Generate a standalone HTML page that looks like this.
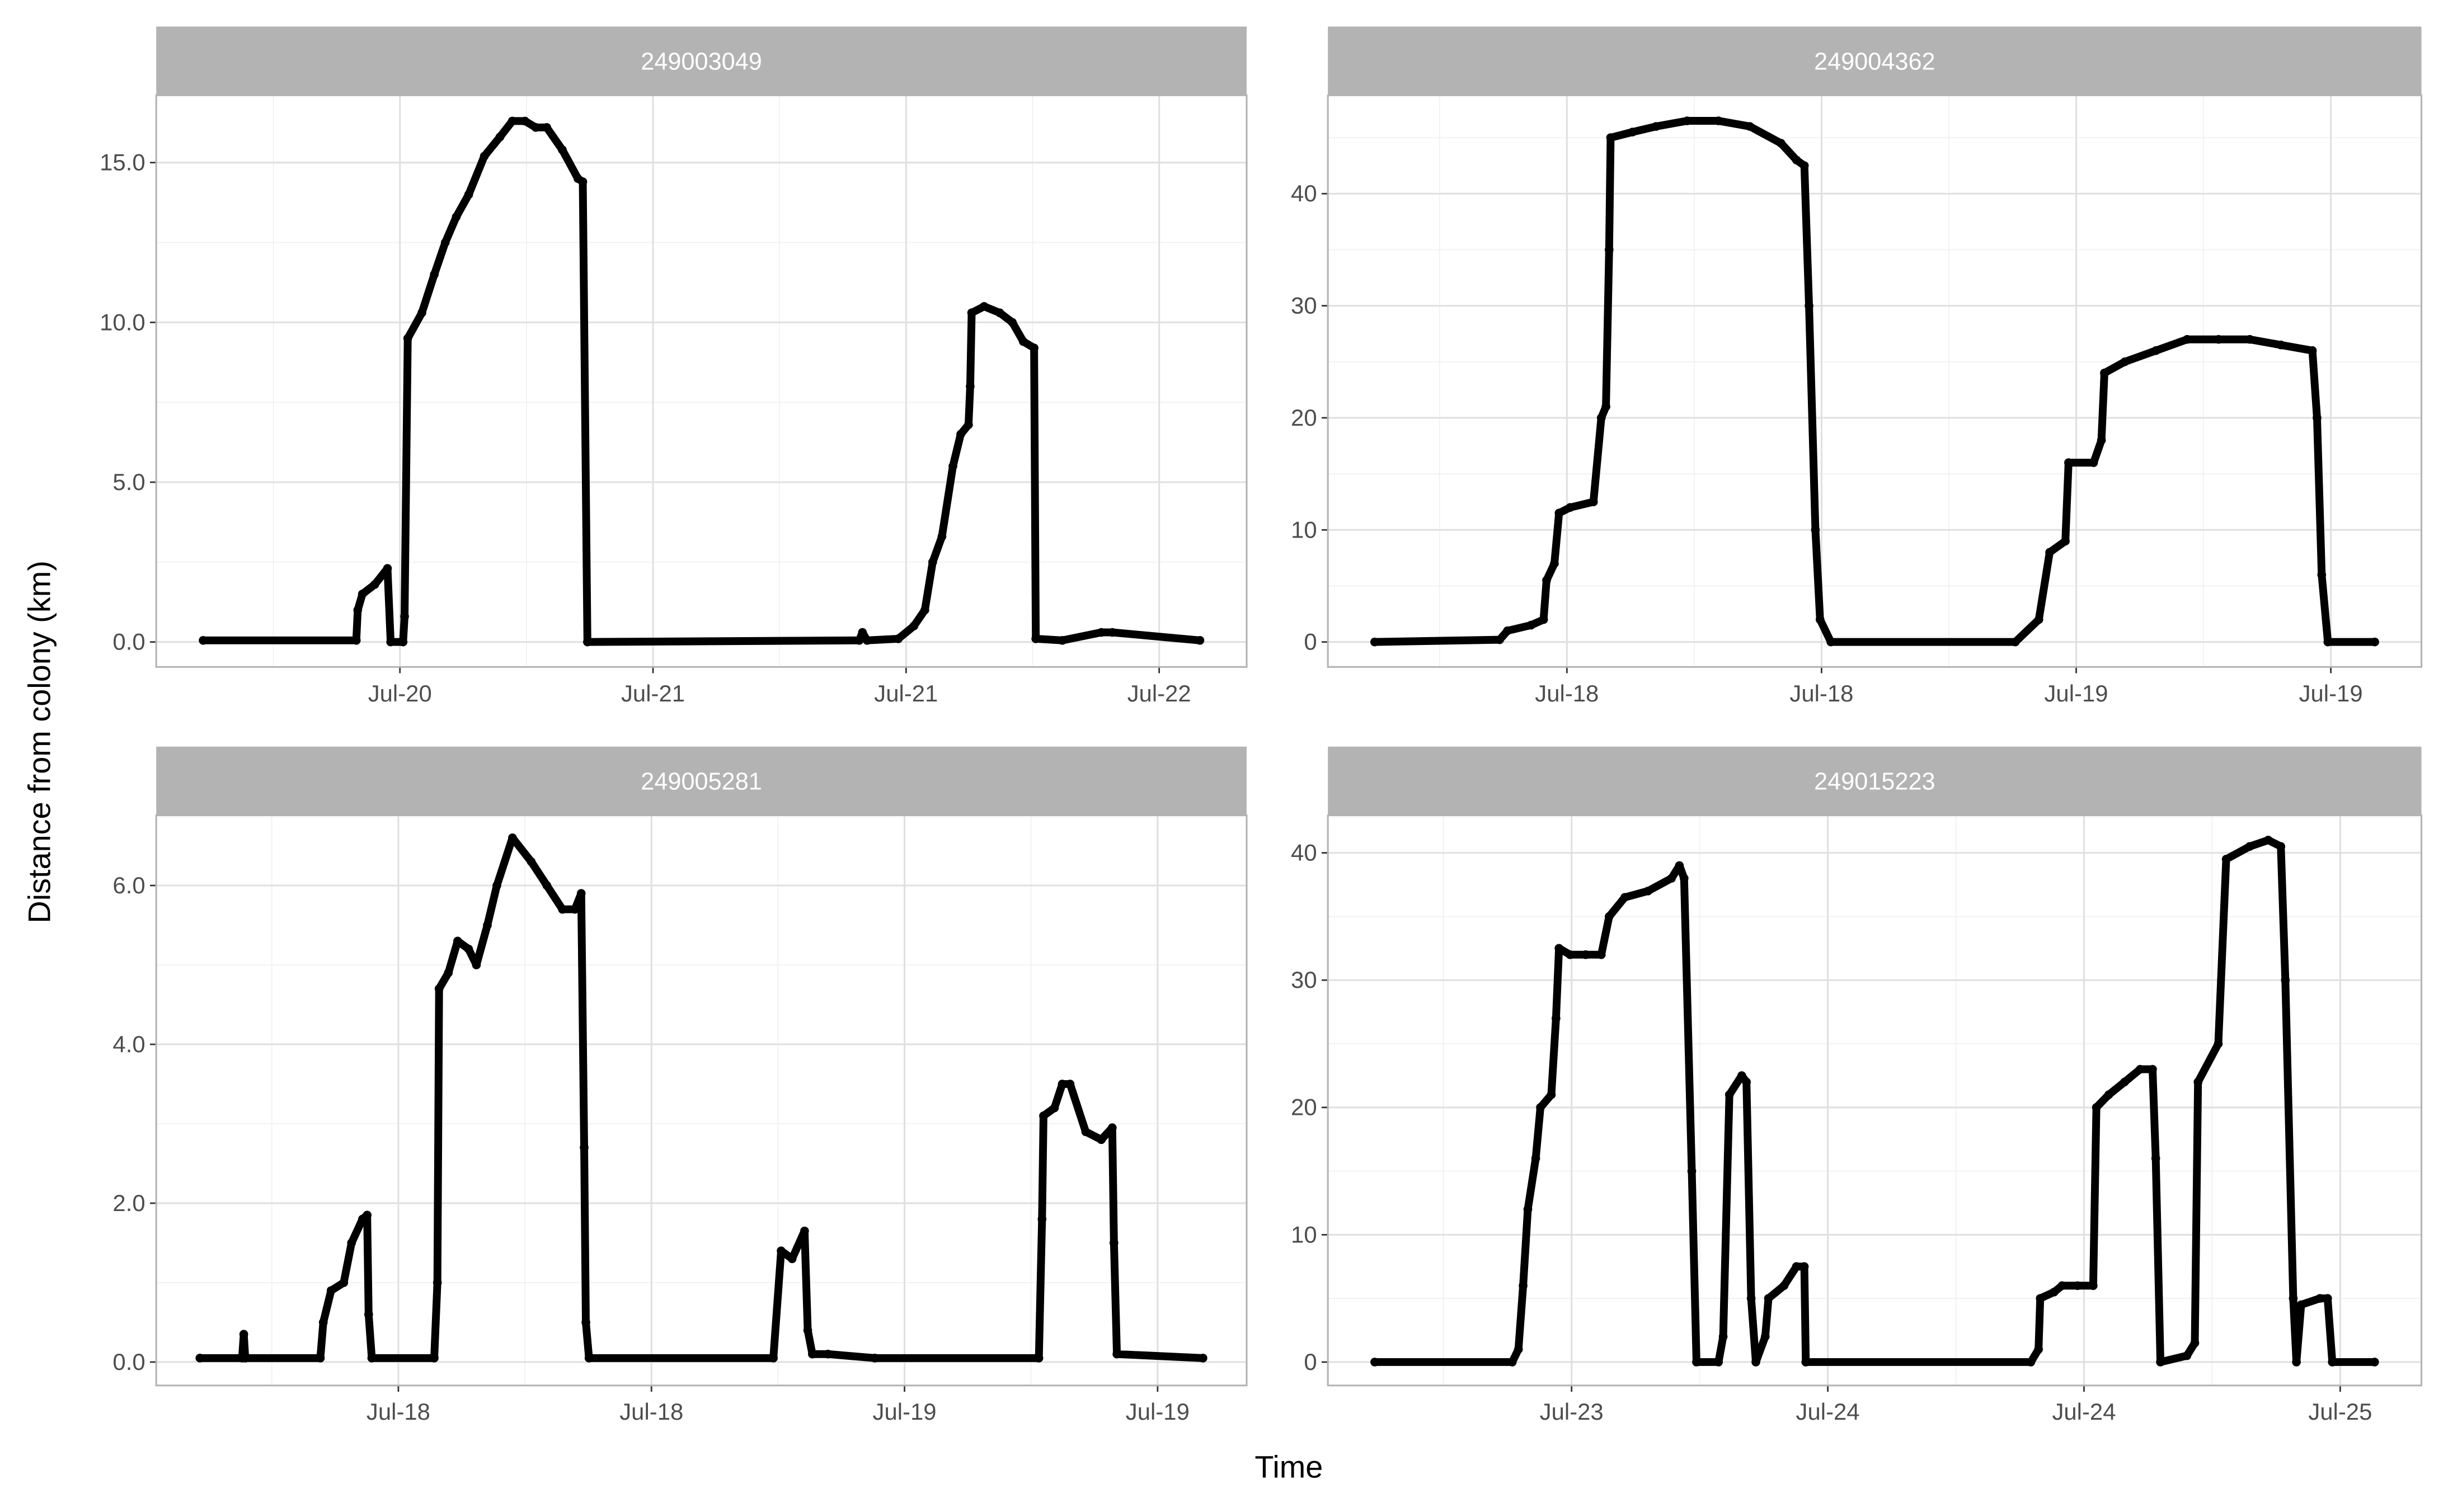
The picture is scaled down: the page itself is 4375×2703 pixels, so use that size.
<!DOCTYPE html>
<html><head><meta charset="utf-8"><style>
html,body{margin:0;padding:0;background:#fff;}
svg{display:block;font-family:"Liberation Sans",sans-serif;}
</style></head><body>
<svg id="chart" width="4375" height="2703" viewBox="0 0 1567 968" preserveAspectRatio="none" xmlns="http://www.w3.org/2000/svg">
<rect x="0" y="0" width="1567" height="968" fill="#fff"/>
<text x="0" y="0" transform="translate(32,475) rotate(-90)" text-anchor="middle" font-size="20" fill="#000">Distance from colony (km)</text>
<text x="825" y="946" text-anchor="middle" font-size="20" fill="#000">Time</text>
</svg>
<script>
// hours since first major tick (major tick every 12h)
const p1Hours=[-9.33,-2.07,-2.0,-1.78,-1.19,-0.59,-0.44,0.15,0.22,0.37,1.04,1.63,2.15,2.67,3.26,4.0,4.74,5.33,5.93,6.44,6.96,7.70,8.44,8.67,8.89,21.78,21.93,22.15,23.63,24.37,24.89,25.26,25.70,26.22,26.59,26.96,27.04,27.11,27.7,28.44,29.04,29.56,30.07,30.15,31.41,33.26,33.78,37.93];
const p1Values=[0.05,0.05,1.0,1.5,1.8,2.3,0,0,0.8,9.5,10.3,11.5,12.5,13.3,14.0,15.2,15.8,16.3,16.3,16.1,16.1,15.4,14.5,14.4,0,0.05,0.3,0.05,0.1,0.5,1.0,2.5,3.3,5.5,6.5,6.8,8,10.3,10.5,10.3,10.0,9.4,9.2,0.1,0.05,0.3,0.3,0.05];
const p2Hours=[-9.06,-3.17,-2.80,-1.69,-1.10,-0.96,-0.59,-0.37,0.15,1.25,1.62,1.84,1.99,2.06,3.09,4.20,5.67,7.14,8.62,10.09,10.82,11.19,11.41,11.71,11.93,12.44,21.13,22.24,22.75,23.49,23.64,24.82,25.19,25.33,26.29,27.76,29.23,30.71,32.18,33.65,35.13,35.35,35.57,35.86,38.07];
const p2Values=[0,0.2,1,1.5,2,5.5,7,11.5,12,12.5,20,21,35,45,45.5,46,46.5,46.5,46,44.5,43,42.5,30,10,2,0,0,2,8,9,16,16,18,24,25,26,27,27,27,26.5,26,20,6,0,0];
const p3Hours=[-9.41,-7.41,-7.33,-7.26,-3.70,-3.56,-3.19,-2.59,-2.22,-1.70,-1.48,-1.41,-1.26,1.70,1.85,1.93,2.37,2.81,3.33,3.70,4.22,4.67,5.41,6.30,7.04,7.78,8.37,8.67,8.81,8.89,9.04,17.78,18.15,18.67,19.26,19.41,19.63,20.37,22.59,30.37,30.52,30.59,31.11,31.48,31.85,32.59,33.33,33.85,33.93,34.07,38.15];
const p3Values=[0.05,0.05,0.35,0.05,0.05,0.5,0.9,1.0,1.5,1.8,1.85,0.6,0.05,0.05,1.0,4.7,4.9,5.3,5.2,5.0,5.5,6.0,6.6,6.3,6.0,5.7,5.7,5.9,2.7,0.5,0.05,0.05,1.4,1.3,1.65,0.4,0.1,0.1,0.05,0.05,1.8,3.1,3.2,3.5,3.5,2.9,2.8,2.95,1.5,0.1,0.05];
const p4Hours=[-9.22,-2.78,-2.49,-2.27,-2.05,-1.68,-1.46,-0.95,-0.73,-0.59,-0.07,0.66,1.39,1.76,2.49,3.58,4.68,5.05,5.27,5.63,5.85,6.88,7.10,7.39,7.97,8.19,8.41,8.63,9.07,9.22,9.95,10.53,10.90,10.97,21.51,21.87,21.95,22.60,22.97,23.70,24.43,24.58,25.16,25.90,26.63,27.21,27.36,27.58,28.82,29.19,29.34,30.29,30.66,31.76,32.63,33.22,33.43,33.80,33.95,34.17,35.05,35.41,35.63,37.61];
const p4Values=[0,0,1,6,12,16,20,21,27,32.5,32,32,32,35,36.5,37,38,39,38,15,0,0,2,21,22.5,22,5,0,2,5,6,7.5,7.5,0,0,1,5,5.5,6,6,6,20,21,22,23,23,16,0,0.5,1.5,22,25,39.5,40.5,41,40.5,30,5,0,4.5,5,5,0,0];
const stripLabels=["249003049","249004362","249005281","249015223"];
const p1XLabels=["Jul-20","Jul-21","Jul-21","Jul-22"];
const p2XLabels=["Jul-18","Jul-18","Jul-19","Jul-19"];
const p3XLabels=["Jul-18","Jul-18","Jul-19","Jul-19"];
const p4XLabels=["Jul-23","Jul-24","Jul-24","Jul-25"];
const p1YTicks=[0,5,10,15], p2YTicks=[0,10,20,30,40], p3YTicks=[0,2,4,6], p4YTicks=[0,10,20,30,40];
const p1YLabels=["0.0","5.0","10.0","15.0"], p2YLabels=["0","10","20","30","40"], p3YLabels=["0.0","2.0","4.0","6.0"], p4YLabels=["0","10","20","30","40"];

const NS="http://www.w3.org/2000/svg";
const svg=document.getElementById('chart');
function mk(tag,attrs,parent){const e=document.createElementNS(NS,tag);for(const k in attrs)e.setAttribute(k,attrs[k]);(parent||svg).appendChild(e);return e;}

const panels=[
 {x0:100,x1:798,sTop:17,y0:61,y1:427,tick0:256,tickStep:162,zeroY:411,pxPerUnit:102.3/5,hours:p1Hours,vals:p1Values,xl:p1XLabels,yt:p1YTicks,yl:p1YLabels,minor:2.5},
 {x0:850,x1:1550,sTop:17,y0:61,y1:427,tick0:1003,tickStep:163,zeroY:411,pxPerUnit:7.175,hours:p2Hours,vals:p2Values,xl:p2XLabels,yt:p2YTicks,yl:p2YLabels,minor:5},
 {x0:100,x1:798,sTop:478,y0:522,y1:887,tick0:255,tickStep:162,zeroY:872,pxPerUnit:50.85,hours:p3Hours,vals:p3Values,xl:p3XLabels,yt:p3YTicks,yl:p3YLabels,minor:1},
 {x0:850,x1:1550,sTop:478,y0:522,y1:887,tick0:1006,tickStep:164,zeroY:872,pxPerUnit:8.15,hours:p4Hours,vals:p4Values,xl:p4XLabels,yt:p4YTicks,yl:p4YLabels,minor:5}
];

panels.forEach((p,i)=>{
  const g=mk('g',{});
  
  
  const xS=h=>p.tick0+h*p.tickStep/12;
  const yS=v=>p.zeroY-v*p.pxPerUnit;
  const st=mk('rect',{x:p.x0,y:p.sTop,width:p.x1-p.x0,height:p.y0-p.sTop,fill:'#b3b3b3'},g);
  
  
  const stt=mk('text',{x:(p.x0+p.x1)/2,y:(p.sTop+p.y0)/2+5.5,'text-anchor':'middle','font-size':15.5,fill:'#fff'},g);
  stt.textContent=stripLabels[i];
  
  
  const maxV=(p.zeroY-p.y0)/p.pxPerUnit, minV=(p.zeroY-p.y1)/p.pxPerUnit;
  for(let v=Math.ceil(minV/p.minor)*p.minor; v<=maxV; v+=p.minor){
    mk('line',{x1:p.x0,x2:p.x1,y1:yS(v),y2:yS(v),stroke:'#f0f0f0','stroke-width':0.6},g);
  }
  for(let k=-1;k<=4;k++){
    const xx=p.tick0+(k-0.5)*p.tickStep;
    if(xx>p.x0&&xx<p.x1) mk('line',{x1:xx,x2:xx,y1:p.y0,y2:p.y1,stroke:'#f0f0f0','stroke-width':0.6},g);
  }
  p.yt.forEach((v,j)=>{
    mk('line',{x1:p.x0,x2:p.x1,y1:yS(v),y2:yS(v),stroke:'#e0e0e0','stroke-width':1.1},g);
    mk('line',{x1:p.x0-4,x2:p.x0,y1:yS(v),y2:yS(v),stroke:'#333','stroke-width':1},g);
    const t=mk('text',{x:p.x0-7,y:yS(v)+5,'text-anchor':'end','font-size':15,fill:'#4d4d4d'},g);
    t.textContent=p.yl[j];
    
    
  });
  p.xl.forEach((lab,j)=>{
    const xx=p.tick0+j*p.tickStep;
    mk('line',{x1:xx,x2:xx,y1:p.y0,y2:p.y1,stroke:'#e0e0e0','stroke-width':1.1},g);
    mk('line',{x1:xx,x2:xx,y1:p.y1,y2:p.y1+4,stroke:'#333','stroke-width':1},g);
    const t=mk('text',{x:xx,y:p.y1+22,'text-anchor':'middle','font-size':15,fill:'#4d4d4d'},g);
    t.textContent=lab;
    
    
  });
  mk('rect',{x:p.x0,y:p.y0,width:p.x1-p.x0,height:p.y1-p.y0,fill:'none',stroke:'#b3b3b3','stroke-width':1.1},g);
  const pts=p.hours.map((h,k)=>xS(h).toFixed(2)+','+yS(p.vals[k]).toFixed(2)).join(' ');
  const line=mk('polyline',{points:pts,fill:'none',stroke:'#000','stroke-width':5,'stroke-linejoin':'round','stroke-linecap':'round'},g);
  
  
  p.hours.forEach((h,k)=>{
    const c=mk('circle',{cx:xS(h),cy:yS(p.vals[k]),r:2.8,fill:'#000'},g);
    
    
  });
});
</script>
</body></html>
